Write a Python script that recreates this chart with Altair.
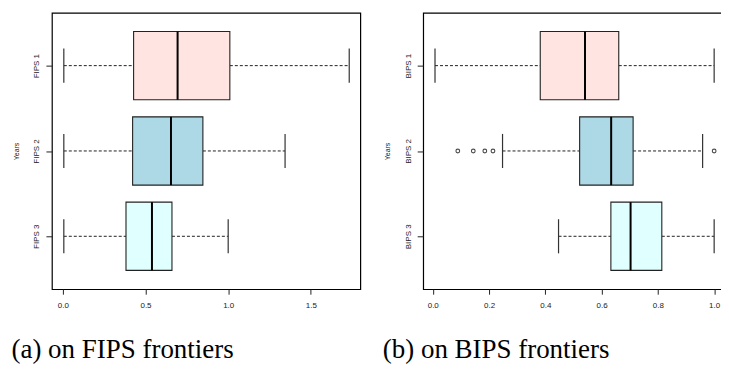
import altair as alt
import pandas as pd

# ---- data ----
fips_names = ["FIPS 1", "FIPS 2", "FIPS 3"]
fips_low = [0.006, 0.006, 0.006]
fips_q1 = [0.428, 0.422, 0.382]
fips_med = [0.694, 0.654, 0.539]
fips_q3 = [1.010, 0.847, 0.660]
fips_high = [1.732, 1.344, 1.000]
fips_out_row = []
fips_out_val = []

bips_names = ["BIPS 1", "BIPS 2", "BIPS 3"]
bips_low = [0.008, 0.248, 0.447]
bips_q1 = [0.382, 0.522, 0.633]
bips_med = [0.541, 0.634, 0.703]
bips_q3 = [0.661, 0.712, 0.814]
bips_high = [1.000, 0.959, 1.000]
bips_out_row = [2, 2, 2, 2, 2]
bips_out_val = [0.089, 0.144, 0.185, 0.214, 1.000]

fills = ["#FFE4E1", "#ADD8E6", "#E0FFFF"]

fips_ticks = [0.0, 0.5, 1.0, 1.5]
bips_ticks = [0.0, 0.2, 0.4, 0.6, 0.8, 1.0]
fips_domain = [-0.066, 1.799]
bips_domain = [-0.034, 1.030]

PW1, PW2, PH = 309, 300, 277


def panel(names, low, q1, med, q3, high, orow, oval, xdomain, xticks, caption, pw):
    rows = list(range(1, len(names) + 1))
    df = pd.DataFrame({
        "row": rows, "name": names, "low": low, "q1": q1, "med": med,
        "q3": q3, "high": high, "fill": fills,
    })
    df["ylo"] = df["row"] - 0.4
    df["yhi"] = df["row"] + 0.4
    df["slo"] = df["row"] - 0.2
    df["shi"] = df["row"] + 0.2
    odf = pd.DataFrame({"row": orow, "val": oval})

    xs = alt.Scale(domain=xdomain, nice=False, zero=False)
    ys = alt.Scale(domain=[0.38, 3.62], reverse=True, nice=False, zero=False)
    label_expr = "[" + ",".join("'%s'" % n for n in names) + "][datum.value-1]"
    xaxis = alt.Axis(values=xticks, format=".1f", title=None, tickSize=5,
                     labelPadding=7)
    yaxis = alt.Axis(values=rows, labelExpr=label_expr, title="Years",
                     labelAngle=270, labelAlign="center", labelBaseline="bottom",
                     tickSize=6, labelPadding=5,
                     titleX=-35.5, titleY=PH / 2, titleAngle=270,
                     titleAlign="center", titleBaseline="middle")

    base = alt.Chart(df)
    wl = base.mark_rule(color="#222", strokeWidth=1, strokeDash=[3, 2]).encode(
        x=alt.X("low:Q", scale=xs, axis=xaxis), x2="q1:Q",
        y=alt.Y("row:Q", scale=ys, axis=yaxis))
    wh = base.mark_rule(color="#222", strokeWidth=1, strokeDash=[3, 2]).encode(
        x=alt.X("q3:Q", scale=xs), x2="high:Q", y=alt.Y("row:Q", scale=ys))
    sl = base.mark_rule(color="#333", strokeWidth=1.2).encode(
        x=alt.X("low:Q", scale=xs), y=alt.Y("slo:Q", scale=ys), y2="shi:Q")
    sh = base.mark_rule(color="#333", strokeWidth=1.2).encode(
        x=alt.X("high:Q", scale=xs), y=alt.Y("slo:Q", scale=ys), y2="shi:Q")
    box = base.mark_rect(stroke="#222", strokeWidth=1.1).encode(
        x=alt.X("q1:Q", scale=xs), x2="q3:Q",
        y=alt.Y("ylo:Q", scale=ys), y2="yhi:Q",
        fill=alt.Fill("fill:N", scale=None))
    md = base.mark_rule(color="black", strokeWidth=2).encode(
        x=alt.X("med:Q", scale=xs), y=alt.Y("ylo:Q", scale=ys), y2="yhi:Q")
    layers = [wl, wh, sl, sh, box, md]
    if len(orow):
        pts = alt.Chart(odf).mark_point(shape="circle", filled=False, color="black",
                                        size=14, strokeWidth=1.1).encode(
            x=alt.X("val:Q", scale=xs), y=alt.Y("row:Q", scale=ys))
        layers.append(pts)
    return alt.layer(*layers).properties(
        width=pw, height=PH,
        title=alt.TitleParams(text=caption, orient="bottom", anchor="start",
                              frame="group",
                              font="Liberation Serif", fontSize=27,
                              fontWeight="normal", color="black",
                              baseline="top", offset=28, dx=-40.5))


left = panel(fips_names, fips_low, fips_q1, fips_med, fips_q3, fips_high,
             fips_out_row, fips_out_val, fips_domain, fips_ticks,
             "(a) on FIPS frontiers", PW1)
right = panel(bips_names, bips_low, bips_q1, bips_med, bips_q3, bips_high,
              bips_out_row, bips_out_val, bips_domain, bips_ticks,
              "(b) on BIPS frontiers", PW2)

chart = alt.hconcat(left, right, spacing=63, bounds="flush").properties(
    padding={"left": 2, "top": 3.4, "right": -2.6, "bottom": 0}
).configure_view(stroke="black", strokeWidth=1.2).configure_axis(
    grid=False, domain=False, labelFont="Liberation Sans", labelFontSize=8,
    labelColor="#222", tickColor="#222", titleFont="Liberation Sans",
    titleFontSize=7, titleFontWeight="normal", titleColor="#222")

chart.save("out.html", embed_options={"renderer": "svg", "actions": False})
